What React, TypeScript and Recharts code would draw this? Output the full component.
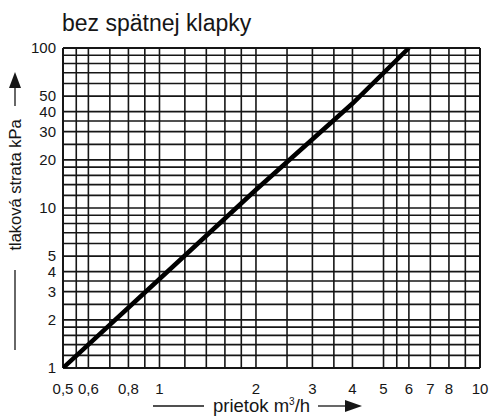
import { Line, LineChart, ReferenceLine, XAxis, YAxis } from "recharts"

// flow (m3/h) vs pressure loss (kPa)
const FLOW = [0.5, 1, 2, 4, 6]
const LOSS = [1, 3.6, 13, 45, 100]

const X_TICKS = [0.5, 0.6, 0.8, 1, 2, 3, 4, 5, 6, 7, 8, 10]
const Y_TICKS = [1, 2, 3, 4, 5, 10, 20, 30, 40, 50, 100]

const X_GRID = [0.5, 0.55, 0.6, 0.7, 0.8, 0.9, 1, 1.2, 1.4, 1.6, 1.8, 2, 2.5, 3, 3.5, 4, 5, 5.5, 6, 7, 8, 9, 10]
const Y_GRID = [
  1, 1.2, 1.4, 1.6, 1.8, 2, 2.5, 3, 3.5, 4, 5, 6, 7, 8, 9,
  10, 12, 14, 16, 18, 20, 25, 30, 35, 40, 50, 60, 70, 80, 90, 100,
]

const FONT = "'Liberation Sans', Arial, sans-serif"
const INK = "#161616"

const data = FLOW.map((x, i) => ({ x, y: LOSS[i] }))

function YLabel() {
  const cx = 15
  return (
    <g>
      <line x1={cx} y1={350} x2={cx} y2={270} stroke={INK} strokeWidth={1.3} />
      <text
        x={cx}
        y={185}
        transform={`rotate(-90 ${cx} 185)`}
        textAnchor="middle"
        dominantBaseline="central"
        fontFamily={FONT}
        fontSize={16.5}
        fill={INK}
      >
        tlaková strata kPa
      </text>
      <line x1={cx} y1={106} x2={cx} y2={86} stroke={INK} strokeWidth={1.3} />
      <polygon points={`${cx},72 ${cx - 6},88 ${cx + 6},88`} fill={INK} />
    </g>
  )
}

function XLabel() {
  const y = 406
  return (
    <g>
      <line x1={153} y1={y} x2={204} y2={y} stroke={INK} strokeWidth={1.3} />
      <text x={213} y={412} fontFamily={FONT} fontSize={18.5} fill={INK}>
        prietok m<tspan dy={-7} fontSize={10}>3</tspan>
        <tspan dy={7}>/h</tspan>
      </text>
      <line x1={318} y1={y} x2={348} y2={y} stroke={INK} strokeWidth={1.3} />
      <polygon points={`362,${y} 345,${y - 6} 345,${y + 6}`} fill={INK} />
    </g>
  )
}

export default function App() {
  return (
    <div style={{ position: "relative", width: 490, height: 418, background: "#fff", fontFamily: FONT }}>
      <style>{`body { margin: 0; }`}</style>
      <div
        style={{
          position: "absolute",
          left: 62,
          top: 12,
          fontSize: 23,
          lineHeight: 1,
          color: INK,
        }}
      >
        bez spätnej klapky
      </div>
      <LineChart width={490} height={418} data={data} margin={{ top: 48, right: 10, left: 0, bottom: 0 }}>
        {X_GRID.map((v) => (
          <ReferenceLine key={`x${v}`} x={v} stroke={INK} strokeWidth={v === 0.5 || v === 10 ? 2 : 1.6} ifOverflow="extendDomain" />
        ))}
        {Y_GRID.map((v) => (
          <ReferenceLine key={`y${v}`} y={v} stroke={INK} strokeWidth={v === 1 || v === 100 ? 2 : 1.6} ifOverflow="extendDomain" />
        ))}
        <XAxis
          dataKey="x"
          type="number"
          scale="log"
          domain={[0.5, 10]}
          ticks={X_TICKS}
          interval={0}
          tickFormatter={(v: number) => String(v).replace(".", ",")}
          axisLine={false}
          tickLine={false}
          tickSize={6}
          tickMargin={9}
          height={50}
          tick={{ fontSize: 15, fill: INK, fontFamily: FONT }}
          label={<XLabel />}
          allowDataOverflow
        />
        <YAxis
          type="number"
          scale="log"
          domain={[1, 100]}
          ticks={Y_TICKS}
          interval={0}
          axisLine={false}
          tickLine={false}
          tickSize={4}
          tickMargin={3}
          width={63}
          tick={{ fontSize: 15, fill: INK, fontFamily: FONT }}
          label={<YLabel />}
          allowDataOverflow
        />
        <Line
          dataKey="y"
          type="linear"
          stroke="#000"
          strokeWidth={4.5}
          dot={false}
          isAnimationActive={false}
        />
      </LineChart>
    </div>
  )
}
